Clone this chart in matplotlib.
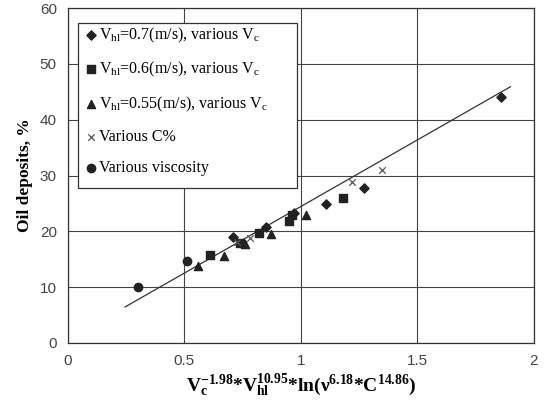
import matplotlib
matplotlib.use("Agg")
import matplotlib.pyplot as plt
from matplotlib.patches import Rectangle

# Data
d07_x = [0.71, 0.85, 0.97, 1.11, 1.27, 1.86]
d07_y = [19.0, 20.8, 23.3, 24.9, 27.8, 44.1]

d06_x = [0.61, 0.74, 0.82, 0.95, 0.96, 1.18]
d06_y = [15.8, 17.9, 19.7, 21.9, 22.9, 26.0]

d055_x = [0.56, 0.67, 0.76, 0.87, 1.02]
d055_y = [13.8, 15.6, 17.7, 19.5, 23.0]

dc_x = [0.725, 0.78, 1.22, 1.35]
dc_y = [18.1, 18.8, 28.9, 31.0]

dv_x = [0.30, 0.51]
dv_y = [10.0, 14.7]

fit_x = [0.245, 1.90]
fit_y = [6.45, 45.9]

xticks = [0, 0.5, 1, 1.5, 2]
xticklabels = ["0", "0.5", "1", "1.5", "2"]
yticks = [0, 10, 20, 30, 40, 50, 60]

plt.rcParams['mathtext.fontset'] = 'custom'
plt.rcParams['mathtext.rm'] = 'Liberation Serif'
plt.rcParams['mathtext.it'] = 'Liberation Serif:italic'
plt.rcParams['mathtext.bf'] = 'Liberation Serif:bold'

fig = plt.figure(figsize=(5.48, 4.12), dpi=100)
ax = fig.add_axes([0.124, 0.1675, 0.850, 0.813])

mc = '#222222'
ax.plot(fit_x, fit_y, color='#333333', lw=0.9, zorder=2)
ax.scatter(d07_x, d07_y, marker='D', s=22, color=mc, zorder=3,
           label=r'V$_{\mathrm{hl}}$=0.7(m/s), various V$_{\mathrm{c}}$')
ax.scatter(d06_x, d06_y, marker='s', s=28, color=mc, zorder=3,
           label=r'V$_{\mathrm{hl}}$=0.6(m/s), various V$_{\mathrm{c}}$')
ax.scatter(d055_x, d055_y, marker='^', s=34, color=mc, zorder=3,
           label=r'V$_{\mathrm{hl}}$=0.55(m/s), various V$_{\mathrm{c}}$')
ax.scatter(dc_x, dc_y, marker='x', s=22, color='#555555', linewidths=0.9, zorder=3,
           label='Various C%')
ax.scatter(dv_x, dv_y, marker='o', s=36, color=mc, zorder=3,
           label='Various viscosity')

ax.set_xlim(0, 2)
ax.set_ylim(0, 60)
ax.set_xticks(xticks)
ax.set_xticklabels(xticklabels)
ax.set_yticks(yticks)
ax.grid(True, color='#444444', lw=0.8)
ax.set_axisbelow(True)
ax.tick_params(length=0, labelsize=11, labelcolor='#444444', pad=8)
for lab in ax.get_xticklabels() + ax.get_yticklabels():
    lab.set_family('Liberation Sans')
for s in ax.spines.values():
    s.set_color('#333333')
    s.set_linewidth(0.9)

ax.set_xlabel(r'$\mathbf{V_c^{-1.98}{*}V_{hl}^{10.95}{*}ln(\nu^{6.18}{*}C^{14.86})}$',
              fontsize=14, labelpad=3)
ax.set_ylabel('Oil deposits, %', family='Liberation Serif', fontweight='bold',
              fontsize=12.5, labelpad=5)

# legend frame drawn in axes fraction
box = Rectangle((0.021, 0.462), 0.470, 0.493, transform=ax.transAxes,
                facecolor='white', edgecolor='#333333', lw=0.9, zorder=4)
ax.add_patch(box)
leg = ax.legend(loc='upper left', bbox_to_anchor=(0.021, 0.964), borderaxespad=0,
                frameon=False,
                prop={'family': 'Liberation Serif', 'size': 11.5},
                labelspacing=0.95, handletextpad=0.0, handlelength=1.0,
                borderpad=0.35, scatterpoints=1)
leg.set_zorder(5)

fig.savefig('out.png', dpi=100, facecolor='white')
